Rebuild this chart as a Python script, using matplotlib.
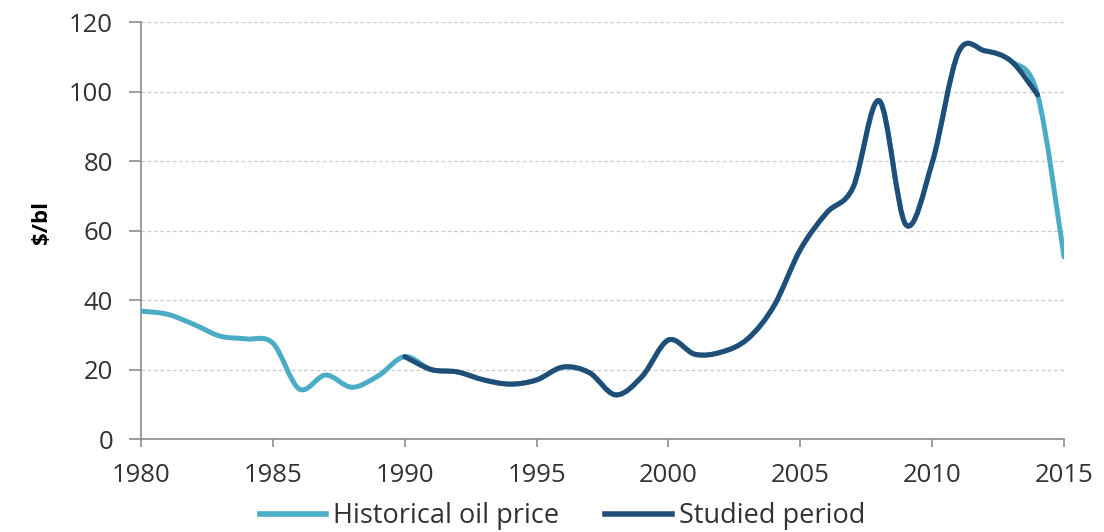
"""Historical oil price vs studied period, smoothed Excel-style line chart"""
import matplotlib
matplotlib.use("Agg")
import matplotlib.pyplot as plt
from matplotlib.path import Path
from matplotlib.patches import PathPatch
from matplotlib.lines import Line2D

years = list(range(1980, 2016))
price = [36.8, 35.9, 33.0, 29.6, 28.8, 27.6, 14.4, 18.4, 14.9, 18.2,
         23.7, 20.0, 19.3, 17.0, 15.8, 17.0, 20.7, 19.1, 12.7, 18.0,
         28.5, 24.4, 25.0, 28.8, 38.3, 54.5, 65.1, 72.4, 97.3, 61.7,
         79.5, 111.3, 111.7, 108.7, 99.0, 52.4]
studied_start, studied_end = 1990, 2014

LIGHT = "#4BACC6"
DARK = "#1F4E79"
plt.rcParams["font.family"] = ["Open Sans", "DejaVu Sans"]


def smooth_path(xs, ys):
    """Bezier path through the points, like Excel's smoothed line"""
    pts = list(zip(xs, ys))
    n = len(pts)
    verts = [pts[0]]
    codes = [Path.MOVETO]
    for i in range(n - 1):
        p0 = pts[i - 1] if i > 0 else pts[i]
        p1 = pts[i]
        p2 = pts[i + 1]
        p3 = pts[i + 2] if i + 2 < n else pts[i + 1]
        c1 = (p1[0] + (p2[0] - p0[0]) / 6, p1[1] + (p2[1] - p0[1]) / 6)
        c2 = (p2[0] - (p3[0] - p1[0]) / 6, p2[1] - (p3[1] - p1[1]) / 6)
        verts += [c1, c2, p2]
        codes += [Path.CURVE4] * 3
    return Path(verts, codes)


fig = plt.figure(figsize=(11.04, 5.32), dpi=100)
ax = fig.add_axes([0.1277, 0.1748, 0.8361, 0.7838])

ax.add_patch(PathPatch(smooth_path(years, price), fill=False,
                       edgecolor=LIGHT, lw=3.6, capstyle="round",
                       joinstyle="round", zorder=3))
i0 = years.index(studied_start)
i1 = years.index(studied_end) + 1
ax.add_patch(PathPatch(smooth_path(years[i0:i1], price[i0:i1]), fill=False,
                       edgecolor=DARK, lw=3.6, capstyle="round",
                       joinstyle="round", zorder=4))

ax.set_xlim(1980, 2015)
ax.set_ylim(0, 120)
ax.set_xticks(range(1980, 2016, 5))
ax.set_yticks(range(0, 121, 20))
ax.grid(axis="y", color="#cccccc", linestyle=(0, (3, 2)), lw=0.9)
ax.set_axisbelow(True)
for s in ["top", "right"]:
    ax.spines[s].set_visible(False)
for s in ["left", "bottom"]:
    ax.spines[s].set_color("#8c8c8c")
    ax.spines[s].set_linewidth(1.2)
ax.tick_params(axis="both", colors="#8c8c8c", width=1.2,
               labelsize=18.5, labelcolor="#333333")
ax.tick_params(axis="y", length=9, pad=11)
ax.tick_params(axis="x", length=6, pad=11)
ax.set_ylabel("$/bl", fontsize=16, fontweight="bold")
ax.yaxis.set_label_coords(-0.096, 0.52)

handles = [Line2D([], [], color=LIGHT, lw=4), Line2D([], [], color=DARK, lw=4)]
fig.legend(handles, ["Historical oil price", "Studied period"],
           loc="center", bbox_to_anchor=(0.5095, 0.03), ncol=2,
           frameon=False, fontsize=19.5, handlelength=2.45,
           handletextpad=0.25, columnspacing=1.7, labelcolor="#333333",
           borderpad=0, borderaxespad=0)

fig.savefig("out.png", dpi=100)
